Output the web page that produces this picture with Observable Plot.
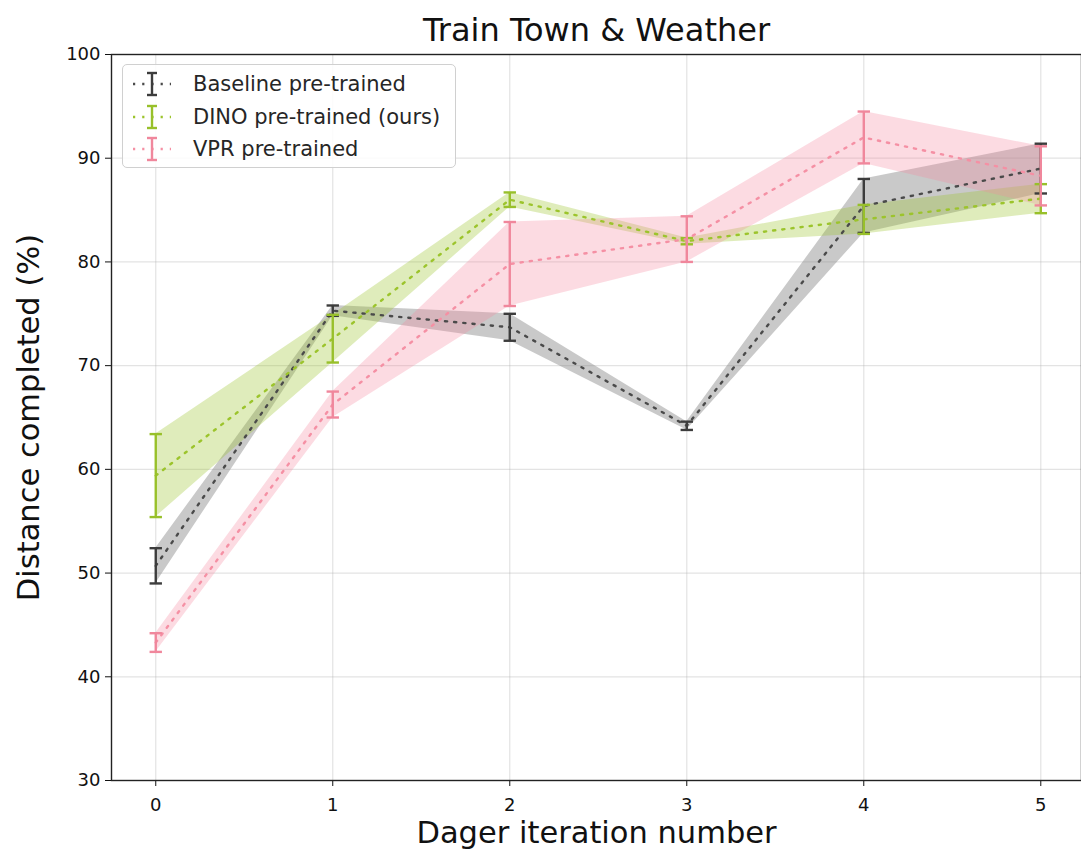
<!DOCTYPE html>
<html>
<head>
<meta charset="utf-8">
<script src="https://cdn.jsdelivr.net/npm/d3@7"></script>
<script src="https://cdn.jsdelivr.net/npm/@observablehq/plot@0.6"></script>
<style>
  html, body { margin: 0; padding: 0; background: #fff; }
  #wrap { position: relative; width: 1081px; height: 856px; font-family: "DejaVu Sans", sans-serif; }
  #legend { position: absolute; left: 122px; top: 64px; width: 334px; height: 104px;
    border: 1px solid #d0d0d0; border-radius: 5px; background: rgba(255,255,255,0.85);
    box-sizing: border-box; padding-top: 3px; }
  .row { display: flex; align-items: center; height: 32.5px; }
  .row svg { margin-left: 8px; margin-right: 20px; }
  .row span { font-size: 21px; color: #262626; }
</style>
</head>
<body>
<div id="wrap"></div>
<script>
const iterations = [0, 1, 2, 3, 4, 5];
const seriesNames = ["Baseline pre-trained", "DINO pre-trained (ours)", "VPR pre-trained"];
const baselineMean = [50.7, 75.3, 73.7, 64.2, 85.4, 89.0];
const baselineStd  = [1.7, 0.5, 1.3, 0.4, 2.6, 2.4];
const dinoMean = [59.4, 72.6, 86.0, 82.0, 84.1, 86.1];
const dinoStd  = [4.0, 2.3, 0.7, 0.3, 1.4, 1.4];
const vprMean = [43.3, 66.25, 79.8, 82.2, 92.0, 88.3];
const vprStd  = [0.9, 1.25, 4.05, 2.2, 2.5, 2.85];
const yTicks = [30, 40, 50, 60, 70, 80, 90, 100];

const lineColors = ["#4a4a4a", "#9cc42c", "#f590a4"];
const barColors  = ["#3c3c3c", "#98c02a", "#f0879c"];
const bandColors = ["#7f7f7f", "#9cc42c", "#f4899e"];
const bandOpacity = [0.42, 0.32, 0.3];

const means = [baselineMean, dinoMean, vprMean];
const stds = [baselineStd, dinoStd, vprStd];
const data = [];
seriesNames.forEach((s, si) => iterations.forEach((x, i) => {
  data.push({series: s, si, x, y: means[si][i], lo: means[si][i] - stds[si][i], hi: means[si][i] + stds[si][i]});
}));

const capHalf = 0.035;
const dash = "2.2,7";
const marks = [
  Plot.gridX(iterations, {stroke: "#b0b0b0", strokeOpacity: 0.35, strokeWidth: 1.2}),
  Plot.gridY(yTicks, {stroke: "#b0b0b0", strokeOpacity: 0.35, strokeWidth: 1.2})
];
seriesNames.forEach((s, si) => {
  const d = data.filter(r => r.si === si);
  marks.push(Plot.areaY(d, {x: "x", y1: "lo", y2: "hi", fill: bandColors[si], fillOpacity: bandOpacity[si]}));
});
seriesNames.forEach((s, si) => {
  const d = data.filter(r => r.si === si);
  marks.push(Plot.line(d, {x: "x", y: "y", stroke: lineColors[si], strokeWidth: 2.4, strokeDasharray: dash}));
  marks.push(Plot.ruleX(d, {x: "x", y1: "lo", y2: "hi", stroke: barColors[si], strokeWidth: 2.4}));
  marks.push(Plot.link(d, {x1: r => r.x - capHalf, x2: r => r.x + capHalf, y1: "lo", y2: "lo", stroke: barColors[si], strokeWidth: 2.4}));
  marks.push(Plot.link(d, {x1: r => r.x - capHalf, x2: r => r.x + capHalf, y1: "hi", y2: "hi", stroke: barColors[si], strokeWidth: 2.4}));
});
marks.push(
  Plot.axisX({ticks: iterations, tickFormat: d3.format("d"), tickSize: 6, tickPadding: 12, fontSize: 18,
    label: "Dager iteration number", labelAnchor: "center", labelOffset: 62, labelArrow: "none"}),
  Plot.axisY({ticks: yTicks, tickSize: 6, tickPadding: 5, fontSize: 18,
    label: "Distance completed (%)", labelAnchor: "center", labelOffset: 94, labelArrow: "none"}),
  Plot.frame({stroke: "#222", strokeWidth: 1.4}),
  Plot.text(["Train Town & Weather"], {frameAnchor: "top", dy: -24, fontSize: 32, fill: "#111", lineAnchor: "middle"})
);

const chart = Plot.plot({
  width: 1081,
  height: 856,
  marginLeft: 111,
  marginRight: 0,
  marginTop: 54,
  marginBottom: 76,
  x: {domain: [-0.25, 5.23]},
  y: {domain: [30, 100]},
  style: {fontFamily: "DejaVu Sans, sans-serif", fontSize: "18px", color: "#111", background: "#fff"},
  marks
});
const wrap = document.getElementById("wrap");
wrap.appendChild(chart);
chart.querySelectorAll("[aria-label='y-axis label'] text, [aria-label='x-axis label'] text").forEach(t => t.style.fontSize = "30.5px");

const legend = document.createElement("div");
legend.id = "legend";
seriesNames.forEach((s, si) => {
  const row = document.createElement("div");
  row.className = "row";
  row.innerHTML = `<svg width="42" height="28" viewBox="0 0 42 28">
    <line x1="2" y1="14" x2="40" y2="14" stroke="${lineColors[si]}" stroke-width="2.4" stroke-dasharray="${dash}"/>
    <line x1="21" y1="3" x2="21" y2="25" stroke="${barColors[si]}" stroke-width="2.4"/>
    <line x1="16" y1="3" x2="26" y2="3" stroke="${barColors[si]}" stroke-width="2.4"/>
    <line x1="16" y1="25" x2="26" y2="25" stroke="${barColors[si]}" stroke-width="2.4"/>
  </svg><span>${s}</span>`;
  legend.appendChild(row);
});
wrap.appendChild(legend);
</script>
</body>
</html>
